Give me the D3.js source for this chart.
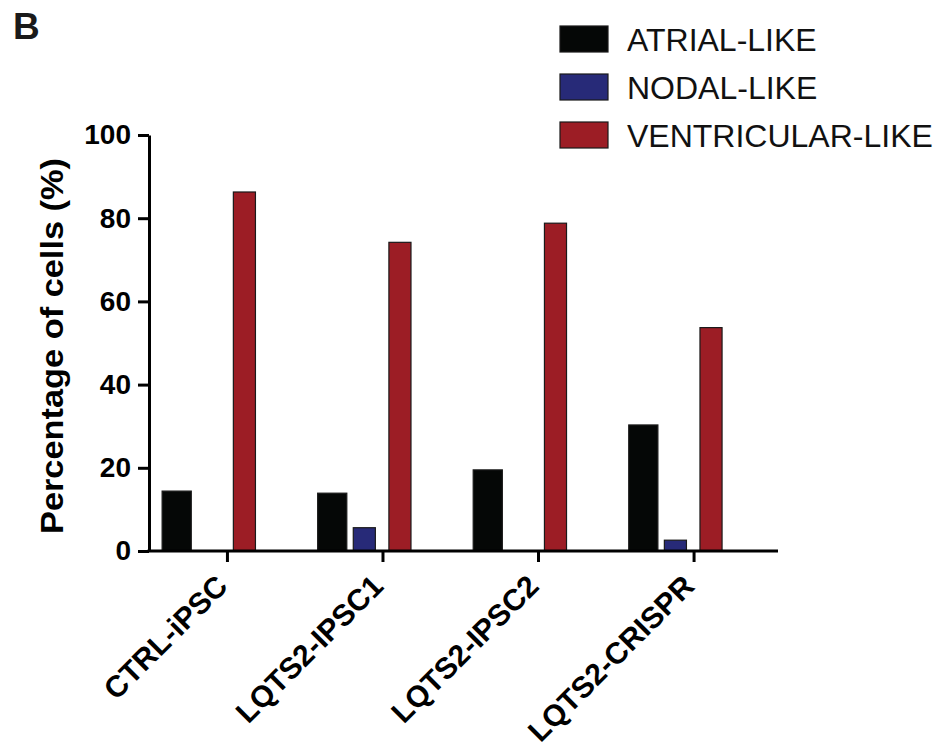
<!DOCTYPE html>
<html>
<head>
<meta charset="utf-8">
<script src="https://cdn.jsdelivr.net/npm/d3@7"></script>
<style>
  body { margin: 0; background: #fff; }
  text { font-family: "Liberation Sans", Arial, Helvetica, sans-serif; }
</style>
</head>
<body>
<svg id="chart" width="940" height="747"></svg>
<script>
// data
const categories = ["CTRL-iPSC", "LQTS2-IPSC1", "LQTS2-IPSC2", "LQTS2-CRISPR"];
const seriesNames = ["ATRIAL-LIKE", "NODAL-LIKE", "VENTRICULAR-LIKE"];
const atrial = [14.4, 13.9, 19.5, 30.3];
const nodal = [0, 5.6, 0, 2.6];
const ventricular = [86.3, 74.2, 78.8, 53.7];
const yTicks = [0, 20, 40, 60, 80, 100];

const seriesValues = [atrial, nodal, ventricular];
const colors = d3.scaleOrdinal()
    .domain(seriesNames)
    .range(["#050706", "#272a78", "#9c1d25"]);

const width = 940, height = 747;
const margin = { top: 135, right: 162, bottom: 196, left: 149 };

const svg = d3.select("#chart");

const y = d3.scaleLinear()
    .domain([0, 100])
    .range([height - margin.bottom, margin.top]);

// groups sit a bit left, GraphPad style
const x0 = d3.scaleBand()
    .domain(categories)
    .range([margin.left, width - margin.right])
    .paddingInner(0.4)
    .paddingOuter(0.222)
    .align(0.19);

const x1 = d3.scaleBand()
    .domain(seriesNames)
    .range([0, x0.bandwidth()])
    .paddingInner(0.38)
    .paddingOuter(0);

// bars
const groups = svg.append("g")
    .selectAll("g")
    .data(categories)
    .join("g")
    .attr("transform", d => `translate(${x0(d)},0)`);

groups.selectAll("rect")
    .data((c, i) => seriesNames.map((s, j) => ({ key: s, value: seriesValues[j][i] })).filter(d => d.value > 0))
    .join("rect")
    .attr("x", d => x1(d.key))
    .attr("y", d => y(d.value))
    .attr("width", d => d.key === "ATRIAL-LIKE" ? x1.bandwidth() * 1.32 : x1.bandwidth())
    .attr("height", d => y(0) - y(d.value))
    .attr("fill", d => colors(d.key))
    .attr("stroke", "#1a1a1a")
    .attr("stroke-width", 1.2);

// y axis
const yAxis = svg.append("g")
    .attr("transform", `translate(${margin.left},0)`)
    .call(d3.axisLeft(y).tickValues(yTicks).tickSize(11).tickSizeOuter(0).tickPadding(7));
yAxis.select(".domain").attr("stroke", "#000").attr("stroke-width", 3);
yAxis.selectAll(".tick line").attr("stroke", "#000").attr("stroke-width", 3);
yAxis.selectAll(".tick text")
    .attr("font-size", 28)
    .attr("font-weight", "bold")
    .attr("fill", "#000")
    .attr("font-family", "Liberation Sans, Arial, sans-serif");

// x axis: ticks shifted right of the group centre, as in the figure
const xTick = x0.copy().range([margin.left + 0.2 * x0.bandwidth(), width - margin.right + 0.2 * x0.bandwidth()]);
svg.append("line")
    .attr("x1", margin.left - 1.5)
    .attr("x2", width - margin.right)
    .attr("y1", y(0))
    .attr("y2", y(0))
    .attr("stroke", "#000")
    .attr("stroke-width", 3);

const xAxis = svg.append("g")
    .attr("transform", `translate(0,${y(0)})`)
    .call(d3.axisBottom(xTick).tickSize(11).tickSizeOuter(0));
xAxis.select(".domain").remove();
xAxis.selectAll(".tick text")
    .attr("font-size", 30)
    .attr("font-weight", "bold")
    .attr("fill", "#000")
    .attr("font-family", "Liberation Sans, Arial, sans-serif")
    .attr("text-anchor", "end")
    .attr("dy", null)
    .attr("y", 0)
    .attr("transform", "translate(2,37) rotate(-45)");
xAxis.selectAll(".tick line").attr("stroke", "#000").attr("stroke-width", 3);

// y title
svg.append("text")
    .attr("transform", `translate(63,346) rotate(-90)`)
    .attr("text-anchor", "middle")
    .attr("font-size", 32)
    .attr("font-weight", "bold")
    .attr("textLength", 376)
    .attr("lengthAdjust", "spacingAndGlyphs")
    .text("Percentage of cells (%)");

// panel letter
svg.append("text")
    .attr("x", 13)
    .attr("y", 39)
    .attr("font-size", 37)
    .attr("font-weight", "bold")
    .attr("fill", "#1a1a1a")
    .text("B");

// legend
const legend = svg.append("g")
    .selectAll("g")
    .data(seriesNames)
    .join("g")
    .attr("transform", (d, i) => `translate(560,${39 + i * 48})`);
legend.append("rect")
    .attr("x", 0)
    .attr("y", -13)
    .attr("width", 48)
    .attr("height", 26)
    .attr("fill", d => colors(d))
    .attr("stroke", "#1a1a1a")
    .attr("stroke-width", 1.2);
legend.append("text")
    .attr("x", 67)
    .attr("y", 0)
    .attr("dy", "0.36em")
    .attr("font-size", 32)
    .attr("fill", "#111")
    .text(d => d);
</script>
</body>
</html>
